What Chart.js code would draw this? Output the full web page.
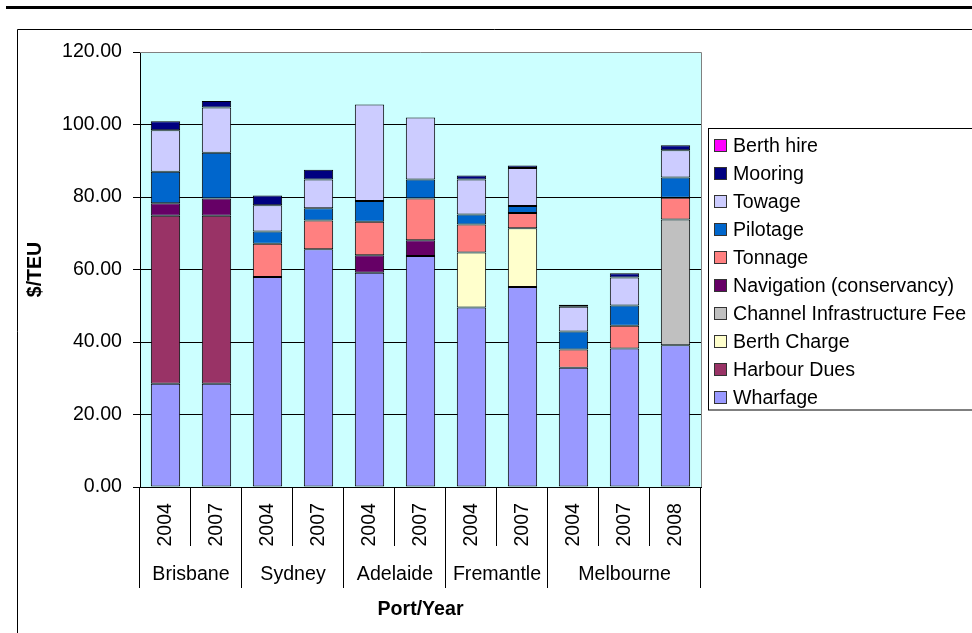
<!DOCTYPE html>
<html>
<head>
<meta charset="utf-8">
<script src="https://cdn.jsdelivr.net/npm/chart.js@4/dist/chart.umd.min.js"></script>
<style>
  html, body { margin: 0; padding: 0; background: #ffffff; }
  #wrap { width: 972px; height: 633px; position: relative; }
</style>
</head>
<body>
<div id="wrap"><canvas id="c" width="972" height="633"></canvas></div>
<script>
// Port groups and the survey years shown under each
const ports = ['Brisbane', 'Sydney', 'Adelaide', 'Fremantle', 'Melbourne'];
const portYears = [['2004', '2007'], ['2004', '2007'], ['2004', '2007'], ['2004', '2007'], ['2004', '2007', '2008']];
const years = portYears.flat();

// Charge components, $/TEU, one value per port/year (null = not levied)
const wharfage     = [28.5, 28.5, 57.9, 65.6, 59.1, 63.7, 49.5, 55.2, 32.9, 38.2, 39.1];
const harbourDues  = [46.3, 46.3, null, null, null, null, null, null, null, null, null];
const berthCharge  = [null, null, null, null, null, null, 15.2, 16.2, null, null, null];
const channelFee   = [null, null, null, null, null, null, null, null, null, null, 34.7];
const navigation   = [3.5, 4.8, null, null, 4.8, 4.4, null, null, null, null, null];
const tonnage      = [null, null, 9.2, 7.9, 9.3, 11.5, 7.7, 4.2, 5.0, 6.3, 6.0];
const pilotage     = [8.7, 12.6, 3.4, 3.4, 5.7, 5.2, 2.8, 1.9, 5.0, 5.6, 5.6];
const towage       = [11.4, 12.5, 7.2, 7.9, 26.6, 17.1, 9.6, 10.5, 6.8, 7.7, 7.5];
const mooring      = [2.5, 1.8, 2.7, 2.7, null, null, 1.1, 0.7, 0.6, 1.2, 1.4];
const berthHire    = [null, null, null, null, null, null, null, null, null, null, null];

const yTicks = [0, 20, 40, 60, 80, 100, 120];

const FONT = "'Liberation Sans', Arial, sans-serif";
const FS = 19.6;

const series = [
  { label: 'Wharfage', data: wharfage, color: '#9999FF' },
  { label: 'Harbour Dues', data: harbourDues, color: '#993366' },
  { label: 'Berth Charge', data: berthCharge, color: '#FFFFCC' },
  { label: 'Channel Infrastructure Fee', data: channelFee, color: '#C0C0C0' },
  { label: 'Navigation (conservancy)', data: navigation, color: '#660066' },
  { label: 'Tonnage', data: tonnage, color: '#FF8080' },
  { label: 'Pilotage', data: pilotage, color: '#0066CC' },
  { label: 'Towage', data: towage, color: '#CCCCFF' },
  { label: 'Mooring', data: mooring, color: '#000080' },
  { label: 'Berth hire', data: berthHire, color: '#FF00FF' }
];

// Plot background, frame, two-level category axis, titles and legend
const decor = {
  id: 'decor',
  beforeDraw(chart) {
    const { ctx, chartArea: a } = chart;
    ctx.save();
    ctx.fillStyle = '#CCFFFF';
    ctx.fillRect(a.left, a.top, a.right - a.left, a.bottom - a.top);
    ctx.restore();
  },
  afterDraw(chart) {
    const { ctx, chartArea: a } = chart;
    const xs = chart.scales.x;
    ctx.save();

    // heavy rule across the top of the page
    ctx.fillStyle = '#000';
    ctx.fillRect(6, 6, 966, 3);

    // outer chart frame
    ctx.strokeStyle = '#000';
    ctx.lineWidth = 1;
    ctx.beginPath();
    ctx.moveTo(17.5, 633);
    ctx.lineTo(17.5, 29.5);
    ctx.lineTo(972, 29.5);
    ctx.stroke();

    // plot area border (top and right)
    ctx.strokeStyle = '#808080';
    ctx.beginPath();
    ctx.moveTo(a.left, a.top + 0.5);
    ctx.lineTo(a.right + 0.5, a.top + 0.5);
    ctx.lineTo(a.right + 0.5, a.bottom);
    ctx.stroke();

    // category separators: short between years, long between ports
    const n = years.length;
    const edge = i => {
      if (i <= 0) return a.left;
      if (i >= n) return a.right;
      return (xs.getPixelForValue(i - 1) + xs.getPixelForValue(i)) / 2;
    };
    const groupEdges = [0];
    portYears.forEach(g => groupEdges.push(groupEdges[groupEdges.length - 1] + g.length));
    ctx.strokeStyle = '#000';
    for (let i = 0; i <= n; i++) {
      const x = Math.round(edge(i)) - 0.5;
      const long = groupEdges.includes(i);
      ctx.beginPath();
      ctx.moveTo(x, a.bottom);
      ctx.lineTo(x, long ? 588 : 546);
      ctx.stroke();
    }

    // port names
    ctx.fillStyle = '#000';
    ctx.font = `${FS}px ${FONT}`;
    ctx.textAlign = 'center';
    ctx.textBaseline = 'middle';
    ports.forEach((p, k) => {
      const cx = (edge(groupEdges[k]) + edge(groupEdges[k + 1])) / 2;
      ctx.fillText(p, cx, 575);
    });

    // axis titles
    ctx.font = `bold ${FS}px ${FONT}`;
    ctx.fillText('Port/Year', (a.left + a.right) / 2, 610);
    ctx.save();
    ctx.translate(36, (a.top + a.bottom) / 2);
    ctx.rotate(-Math.PI / 2);
    ctx.fillText('$/TEU', 0, 0);
    ctx.restore();

    // legend, top entry = last stacked series
    ctx.fillStyle = '#fff';
    ctx.fillRect(708.5, 128.5, 270, 281.5);
    ctx.strokeStyle = '#000';
    ctx.strokeRect(708.5, 128.5, 270, 281.5);
    ctx.font = `${FS}px ${FONT}`;
    ctx.textAlign = 'left';
    const ds = chart.data.datasets;
    for (let i = 0; i < ds.length; i++) {
      const d = ds[ds.length - 1 - i];
      const cy = 145.5 + i * 28.05;
      ctx.fillStyle = d.backgroundColor;
      ctx.fillRect(714, Math.round(cy - 6.5), 13, 13);
      ctx.strokeStyle = '#333';
      ctx.strokeRect(714.5, Math.round(cy - 6.5) + 0.5, 12, 12);
      ctx.fillStyle = '#000';
      ctx.fillText(d.label, 733, cy + 1);
    }
    ctx.restore();
  }
};

new Chart(document.getElementById('c'), {
  type: 'bar',
  data: {
    labels: years,
    datasets: series.map(s => ({
      label: s.label,
      data: s.data,
      backgroundColor: s.color,
      borderColor: '#000',
      borderWidth: 1,
      borderSkipped: false,
      categoryPercentage: 1,
      barPercentage: 0.575
    }))
  },
  options: {
    responsive: false,
    animation: false,
    devicePixelRatio: 1,
    layout: { padding: { left: 0, right: 271, top: 52, bottom: 0 } },
    plugins: { legend: { display: false }, tooltip: { enabled: false } },
    scales: {
      x: {
        stacked: true,
        grid: { display: false, drawTicks: false },
        border: { display: true, color: '#000', width: 1 },
        ticks: {
          autoSkip: false,
          minRotation: 90,
          maxRotation: 90,
          padding: 16,
          color: '#000',
          font: { family: FONT, size: FS }
        },
        afterFit(scale) { scale.height = 146; }
      },
      y: {
        stacked: true,
        min: yTicks[0],
        max: yTicks[yTicks.length - 1],
        afterBuildTicks(scale) { scale.ticks = yTicks.map(v => ({ value: v })); },
        grid: {
          color: ctx => (ctx.tick && ctx.tick.value === 120) ? 'rgba(0,0,0,0)' : '#000',
          tickColor: '#000',
          tickLength: 7,
          lineWidth: 1
        },
        border: { display: true, color: '#000', width: 1 },
        ticks: {
          padding: 11,
          color: '#000',
          font: { family: FONT, size: FS },
          callback: v => Number(v).toFixed(2)
        },
        afterFit(scale) { scale.width = 140; }
      }
    }
  },
  plugins: [decor]
});
</script>
</body>
</html>
